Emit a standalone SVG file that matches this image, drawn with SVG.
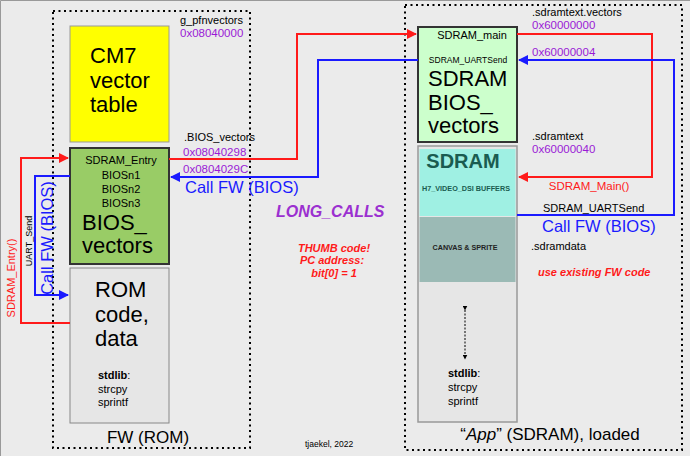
<svg xmlns="http://www.w3.org/2000/svg" width="690" height="456" viewBox="0 0 690 456">
<style>
text{font-family:"Liberation Sans",Arial,sans-serif}
.s11{font-size:11px;fill:#000}
.addr{font-size:11.5px;fill:#9a1ad6}
.big{font-size:22px;fill:#000}
.call{font-size:16.5px;fill:#1a1aff}
.red{stroke:#ff1a1a;stroke-width:2;fill:none}
.blue{stroke:#1a1aff;stroke-width:2;fill:none}
.dot{fill:none;stroke:#000;stroke-width:2;stroke-dasharray:2 3.5}
.note{font-size:11px;fill:#ff1a1a;font-weight:bold;font-style:italic}
</style>
<defs>
<marker id="ar" viewBox="0 0 10 10" refX="9" refY="5" markerWidth="5" markerHeight="5" orient="auto" markerUnits="strokeWidth"><path d="M0,0L10,5L0,10z" fill="#ff1a1a"/></marker>
<marker id="ab" viewBox="0 0 10 10" refX="9" refY="5" markerWidth="5" markerHeight="5" orient="auto" markerUnits="strokeWidth"><path d="M0,0L10,5L0,10z" fill="#1a1aff"/></marker>
<marker id="ak" viewBox="0 0 10 10" refX="9" refY="5" markerWidth="5" markerHeight="5" orient="auto" markerUnits="strokeWidth"><path d="M0,0L10,5L0,10z" fill="#000"/></marker>
</defs>
<rect x="0" y="0" width="690" height="456" fill="#ebebeb"/>
<path d="M0.5,456V0.5H690" fill="none" stroke="#999"/>

<g id="fw-rom">
<rect class="dot" x="53" y="11" width="197" height="437"/>
<text x="148" y="443" font-size="17" text-anchor="middle">FW (ROM)</text>
</g>
<g id="app-sdram">
<rect class="dot" x="405" y="5" width="277" height="445"/>
<text x="550" y="440" font-size="17" text-anchor="middle">“<tspan font-style="italic">App</tspan>” (SDRAM), loaded</text>
</g>

<g id="cm7">
<rect x="70" y="26" width="99" height="116" fill="#ffff00" stroke="#999" stroke-width="1"/>
<text class="big" x="90" y="63">CM7</text>
<text class="big" x="90" y="88">vector</text>
<text class="big" x="90" y="112">table</text>
</g>

<g id="bios-vectors">
<rect x="70" y="148" width="99" height="116" fill="#99cc66" stroke="#333" stroke-width="2"/>
<text class="s11" x="121" y="164" text-anchor="middle">SDRAM_Entry</text>
<text class="s11" x="121" y="179" text-anchor="middle">BIOSn1</text>
<text class="s11" x="121" y="193" text-anchor="middle">BIOSn2</text>
<text class="s11" x="121" y="207" text-anchor="middle">BIOSn3</text>
<text class="big" x="82" y="230">BIOS_</text>
<text class="big" x="82" y="253">vectors</text>
</g>

<g id="rom-code">
<rect x="70" y="268" width="99" height="155" fill="#e6e6e6" stroke="#888" stroke-width="1"/>
<text class="big" x="95" y="297">ROM</text>
<text class="big" x="95" y="322">code,</text>
<text class="big" x="95" y="346">data</text>
<text class="s11" x="98" y="379"><tspan font-weight="bold">stdlib</tspan>:</text>
<text class="s11" x="98" y="393">strcpy</text>
<text class="s11" x="98" y="406">sprintf</text>
</g>

<g id="sdram-bios-vectors">
<rect x="418" y="27" width="99" height="115" fill="#ccffcc" stroke="#333" stroke-width="2"/>
<text class="s11" x="472" y="39" text-anchor="middle">SDRAM_main</text>
<text x="468" y="63" font-size="8.5" text-anchor="middle">SDRAM_UARTSend</text>
<text class="big" x="428" y="86">SDRAM</text>
<text class="big" x="428" y="110">BIOS_</text>
<text class="big" x="428" y="133">vectors</text>
</g>

<g id="sdram-region">
<rect x="418" y="146" width="99" height="276" fill="#e6e6e6" stroke="#999" stroke-width="1.5"/>
<rect x="419.5" y="149" width="96" height="67" fill="#9ff0e3"/>
<rect x="419.5" y="217" width="96" height="65" fill="#9bbab5"/>
<text x="463" y="168" font-size="20" font-weight="bold" fill="#1a5c50" text-anchor="middle">SDRAM</text>
<text x="466" y="191" font-size="7.5" font-weight="bold" fill="#1a5c50" text-anchor="middle" textLength="88" lengthAdjust="spacingAndGlyphs">H7_VIDEO_DSI BUFFERS</text>
<text x="465" y="250" font-size="7.5" font-weight="bold" fill="#222" text-anchor="middle" textLength="65" lengthAdjust="spacingAndGlyphs">CANVAS &amp; SPRITE</text>
<line x1="465" y1="310" x2="465" y2="359" stroke="#000" stroke-width="1" stroke-dasharray="2 1.5" marker-start="url(#ak)" marker-end="url(#ak)"/>
<text class="s11" x="448" y="377"><tspan font-weight="bold">stdlib</tspan>:</text>
<text class="s11" x="448" y="391">strcpy</text>
<text class="s11" x="448" y="405">sprintf</text>
</g>

<g id="connectors">
<path class="red" d="M169,159H297V34H416" marker-end="url(#ar)"/>
<path class="blue" d="M418,60H318V177H171" marker-end="url(#ab)"/>
<path class="red" d="M70,323H21V158H68" marker-end="url(#ar)"/>
<path class="blue" d="M70,176H35V295H68" marker-end="url(#ab)"/>
<path class="red" d="M517,34H652V177H519" marker-end="url(#ar)"/>
<path class="blue" d="M517,215H674V60H519" marker-end="url(#ab)"/>
</g>

<g id="labels">
<text class="s11" x="180" y="24">g_pfnvectors</text>
<text class="addr" x="180" y="37">0x08040000</text>
<text class="s11" x="184" y="141">.BIOS_vectors</text>
<text class="addr" x="183" y="156">0x08040298</text>
<text class="addr" x="183" y="173">0x0804029C</text>
<text class="call" x="185" y="193">Call FW (BIOS)</text>
<text x="0" y="0" font-size="11" fill="#ff1a1a" text-anchor="middle" transform="translate(15,278) rotate(-90)">SDRAM_Entry()</text>
<text x="0" y="0" font-size="9" fill="#000" text-anchor="middle" transform="translate(32,241) rotate(-90)">UART_Send</text>
<text class="call" x="0" y="0" text-anchor="middle" transform="translate(53,238) rotate(-90)">Call FW (BIOS)</text>
<text x="276" y="217" font-size="16" font-weight="bold" font-style="italic" fill="#9b30d0">LONG_CALLS</text>
<text class="note" x="334" y="252" text-anchor="middle">THUMB code!</text>
<text class="note" x="332" y="264" text-anchor="middle">PC address:</text>
<text class="note" x="334" y="277" text-anchor="middle">bit[0] = 1</text>
<text class="s11" x="532" y="16">.sdramtext.vectors</text>
<text class="addr" x="532" y="29">0x60000000</text>
<text class="addr" x="532" y="56">0x60000004</text>
<text class="s11" x="532" y="140">.sdramtext</text>
<text class="addr" x="532" y="153">0x60000040</text>
<text x="589" y="190" font-size="11.5" fill="#ff1a1a" text-anchor="middle">SDRAM_Main()</text>
<text class="s11" x="543" y="212">SDRAM_UARTSend</text>
<text class="call" x="542" y="232">Call FW (BIOS)</text>
<text class="s11" x="531" y="250">.sdramdata</text>
<text class="note" x="538" y="276">use existing FW code</text>
<text x="305" y="447" font-size="8.5" fill="#000">tjaekel, 2022</text>
</g>
</svg>
